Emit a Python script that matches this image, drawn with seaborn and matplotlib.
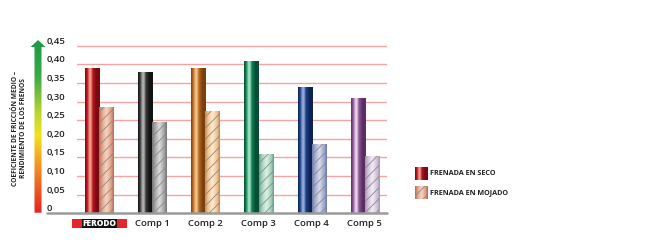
import numpy as np
import pandas as pd
import matplotlib
matplotlib.use("Agg")
import matplotlib.pyplot as plt
import seaborn as sns
from matplotlib.colors import LinearSegmentedColormap
from matplotlib.patches import Rectangle, Polygon

# ---------------- data ----------------
categories = ["FERODO", "Comp 1", "Comp 2", "Comp 3", "Comp 4", "Comp 5"]
dry_values = [0.39, 0.38, 0.39, 0.41, 0.34, 0.31]
wet_values = [0.285, 0.245, 0.275, 0.16, 0.185, 0.155]
series = ["FRENADA EN SECO", "FRENADA EN MOJADO"]
y_ticks = [0, 0.05, 0.10, 0.15, 0.20, 0.25, 0.30, 0.35, 0.40, 0.45]
y_tick_labels = ["0", "0,05", "0,10", "0,15", "0,20", "0,25", "0,30", "0,35", "0,40", "0,45"]
y_label = "COEFICIENTE DE FRICCIÓN MEDIO –\nRENDIMIENTO DE LOS FRENOS"

# shading palettes (dark, mid, light) per category
dry_shades = [("#7a0a10", "#b8161e", "#ee9a8c"),
              ("#121212", "#3e3e3e", "#b0b0b0"),
              ("#7a400e", "#bb6e22", "#f4c088"),
              ("#084e36", "#138456", "#9ee0c0"),
              ("#0a2454", "#244388", "#90a8dc"),
              ("#5a2e62", "#8f5c96", "#e8d0ec")]
wet_shades = [("#b86a58", "#e2a488", "#f7d6c2"),
              ("#747474", "#a6a6a6", "#dcdcdc"),
              ("#c48c56", "#f2c594", "#fdebd0"),
              ("#62a088", "#a6d4bd", "#dcf2e6"),
              ("#6e7aa8", "#a3abce", "#d6dcef"),
              ("#ab93b3", "#d2c3da", "#f3ecf5")]

df = pd.DataFrame({
    "cat": categories * 2,
    "val": dry_values + wet_values,
    "serie": [series[0]] * len(categories) + [series[1]] * len(categories),
})

sns.set_style("white")
plt.rcParams["font.family"] = ["Open Sans", "DejaVu Sans"]
plt.rcParams["hatch.linewidth"] = 0.6

W, H = 650, 243
fig = plt.figure(figsize=(W / 100, H / 100), dpi=100)

# overlay axes in pixel coordinates (drawn first)
ov = fig.add_axes([0, 0, 1, 1], zorder=0)
ov.axis("off")

ax_l, ax_r, y0px, ytop = 77, 387, 213.3, 42.0
ax = fig.add_axes([ax_l / W, (H - y0px) / H, (ax_r - ax_l) / W, (y0px - ytop) / H], zorder=1)
ax.set_facecolor("none")

sns.barplot(data=df, x="cat", y="val", hue="serie", order=categories,
            hue_order=series, width=0.53, legend=False, ax=ax,
            errorbar=None, saturation=1)


def cmap_from(shades, profile):
    d, m, l = shades
    lut = {"d": d, "m": m, "l": l}
    return LinearSegmentedColormap.from_list("g", [(p, lut[c]) for p, c in profile])


dry_profile = [(0.0, "d"), (0.14, "m"), (0.3, "l"), (0.4, "l"), (0.52, "m"), (0.78, "d"), (1.0, "d")]
wet_profile = [(0.0, "d"), (0.2, "m"), (0.5, "l"), (0.8, "m"), (1.0, "d")]
grad = np.linspace(0, 1, 64).reshape(1, -1)

for k, (cont, shades, prof) in enumerate(zip(ax.containers, [dry_shades, wet_shades],
                                               [dry_profile, wet_profile])):
    for i, patch in enumerate(cont.patches):
        x, w, h = patch.get_x(), patch.get_width(), patch.get_height()
        im = ax.imshow(grad, extent=[x, x + w, 0, h], aspect="auto",
                       cmap=cmap_from(shades[i], prof), zorder=2, interpolation="bilinear")
        im.set_clip_path(patch)
        patch.set_facecolor("none")
        patch.set_linewidth(0)
        patch.set_zorder(3)
        if k == 1:
            patch.set_hatch("///")
            patch.set_edgecolor("#8a8a8a")

ax.set_xlim(-0.42, 5.42)
ax.set_ylim(0, 0.46)
ax.set_xlabel("")
ax.set_ylabel("")
sns.despine(ax=ax, left=True, bottom=True, top=True, right=True)

# grid lines
for t in y_ticks[1:]:
    ax.axhline(t, color="#f5a3a3", lw=1.0, zorder=1)
ax.axhline(0, xmin=-0.097, xmax=1.0, color="#9a9a9a", lw=1.8, zorder=4, clip_on=False)

ax.set_yticks(y_ticks)
ax.set_yticklabels(y_tick_labels, ha="left", va="bottom", fontsize=6.8,
                   color="#222222", fontweight="semibold")
ax.tick_params(axis="y", length=0, pad=21.6)
ax.set_xticks(range(len(categories)))
ax.set_xticklabels(categories, fontsize=6.8, color="#222222", fontweight="semibold")
ax.tick_params(axis="x", length=0, pad=4)
lbl0 = ax.get_xticklabels()[0]
lbl0.set_color("white")
lbl0.set_fontweight("heavy")
lbl0.set_fontsize(6.0)
lbl0.set_bbox(dict(facecolor="#111111", edgecolor="none", pad=0.2))

# y label
ov.text(19.5, 128, y_label, rotation=90, ha="center", va="center", fontsize=4.8,
        fontweight="bold", color="#222222", linespacing=1.3)

# gradient arrow
arrow = Polygon([(34.5, 212.7), (41.5, 212.7), (41.5, 47), (45.5, 47),
                 (38, 40), (30.5, 47), (34.5, 47)], closed=True,
                facecolor="none", edgecolor="none")
ov.add_patch(arrow)
arrow_cmap = LinearSegmentedColormap.from_list(
    "arr", [(0, "#e42320"), (0.25, "#f28a22"), (0.45, "#f5e21e"),
            (0.58, "#b9d530"), (0.8, "#35aa48"), (1, "#1b9a45")])
vg = np.linspace(0, 1, 128).reshape(-1, 1)
aim = ov.imshow(vg, extent=[30, 46, 212.7, 40], aspect="auto", cmap=arrow_cmap,
                origin="lower", interpolation="bilinear")
aim.set_clip_path(arrow)

# legend
hg = np.linspace(0, 1, 32).reshape(1, -1)
for (yy, shades, prof, lab, hatch) in [(167, dry_shades[0], dry_profile, series[0], None),
                                       (186, wet_shades[0], wet_profile, series[1], "///")]:
    r = Rectangle((415, yy), 12.5, 13, facecolor="none", edgecolor="#8a8a8a",
                  linewidth=0, hatch=hatch, zorder=3)
    ov.add_patch(r)
    gi = ov.imshow(hg, extent=[415, 427.5, yy + 13, yy], aspect="auto",
                   cmap=cmap_from(shades, prof), zorder=2, interpolation="bilinear")
    gi.set_clip_path(r)
    ov.text(430, yy + 6.8, lab, ha="left", va="center", fontsize=5.2,
            fontweight="bold", color="#222222")
ov.set_xlim(0, W)
ov.set_ylim(H, 0)

# red band around the FERODO logo, placed from the label's rendered box
fig.canvas.draw()
bb = lbl0.get_window_extent(renderer=fig.canvas.get_renderer())
cy = H - (bb.y0 + bb.y1) / 2
cx = (bb.x0 + bb.x1) / 2
hh = bb.height + 0.5
ov.add_patch(Rectangle((cx - 27.5, cy - hh / 2), 55, hh, facecolor="#e8242b",
                       edgecolor="none", zorder=1))

fig.savefig("out.png", dpi=100)
